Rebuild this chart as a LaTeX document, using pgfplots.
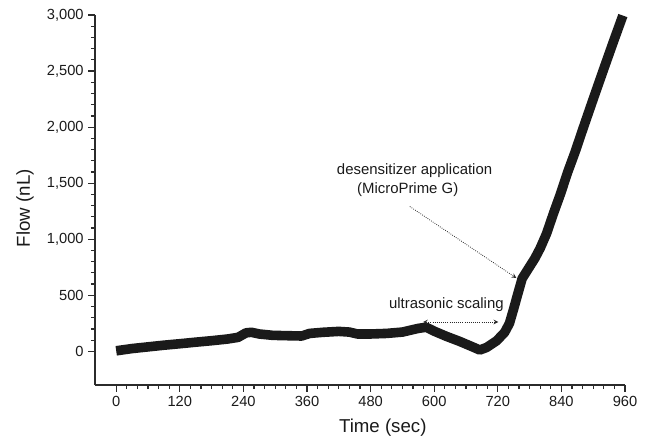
\documentclass[border=0pt]{standalone}
\usepackage{fontspec}
\setmainfont{Liberation Sans}
\usepackage{pgfplots}
\pgfplotsset{compat=1.18}
\definecolor{ink}{HTML}{1A1A1A}
\definecolor{axisgray}{HTML}{2B2B2B}
\begin{document}
\begin{tikzpicture}
\path[use as bounding box] (-71.25pt,-43.5pt) rectangle (414pt,288.75pt);
\begin{axis}[
  scale only axis, width=397.5pt, height=277.5pt,
  at={(0,0)}, anchor=south west,
  xmin=-40, xmax=960, ymin=-300, ymax=3000,
  axis lines=left, axis line style={-, axisgray, line width=1pt},
  xtick={0,120,...,960}, ytick={0,500,...,3000},
  minor x tick num=5, minor y tick num=4,
  tick align=outside, tick style={axisgray, line width=0.9pt},
  major tick length=5pt, minor tick length=3pt,
  /pgf/number format/assume math mode=true,
  /pgf/number format/1000 sep={,},
  ticklabel style={font=\fontsize{11}{13}\selectfont, text=ink},
  xlabel={Time (sec)}, ylabel={Flow (nL)},
  label style={font=\fontsize{14}{16}\selectfont, text=ink},
  xlabel style={at={(axis description cs:0.543,-0.114)}, anchor=center},
  ylabel style={at={(axis description cs:-0.132,0.478)}, anchor=center},
  clip=false,
]
\addplot[ink, line width=7.2pt, line join=round] coordinates {
  (0,5) (30,25) (60,40) (90,55) (120,68) (150,82) (180,95) (210,110)
  (230,125) (245,165) (255,170) (270,155) (295,143) (320,140) (350,137)
  (365,160) (390,170) (420,178) (440,172) (455,155) (480,155) (510,160)
  (540,172) (570,205) (585,215) (600,180) (623,134) (648,89) (673,39)
  (686,12) (699,35) (718,95) (733,170) (742,250) (750,380) (757,500)
  (766,650) (778,740) (790,830) (800,920) (812,1050) (825,1230)
  (838,1400) (852,1600) (866,1780) (881,1990) (900,2250) (920,2520)
  (938,2760) (956,2995)
};
\node[font=\fontsize{11.2}{13}\selectfont, text=ink] at (axis cs:563,1613) {desensitizer application};
\node[font=\fontsize{11.2}{13}\selectfont, text=ink] at (axis cs:550,1441) {(MicroPrime G)};
\node[font=\fontsize{11.2}{13}\selectfont, text=ink] at (axis cs:623,415) {ultrasonic scaling};
\draw[densely dotted, line width=0.6pt, axisgray, -stealth] (axis cs:554,1292) -- (axis cs:755,654);
\draw[densely dotted, line width=0.6pt, axisgray, stealth-stealth] (axis cs:579,262) -- (axis cs:721,262);
\end{axis}
\end{tikzpicture}
\end{document}
